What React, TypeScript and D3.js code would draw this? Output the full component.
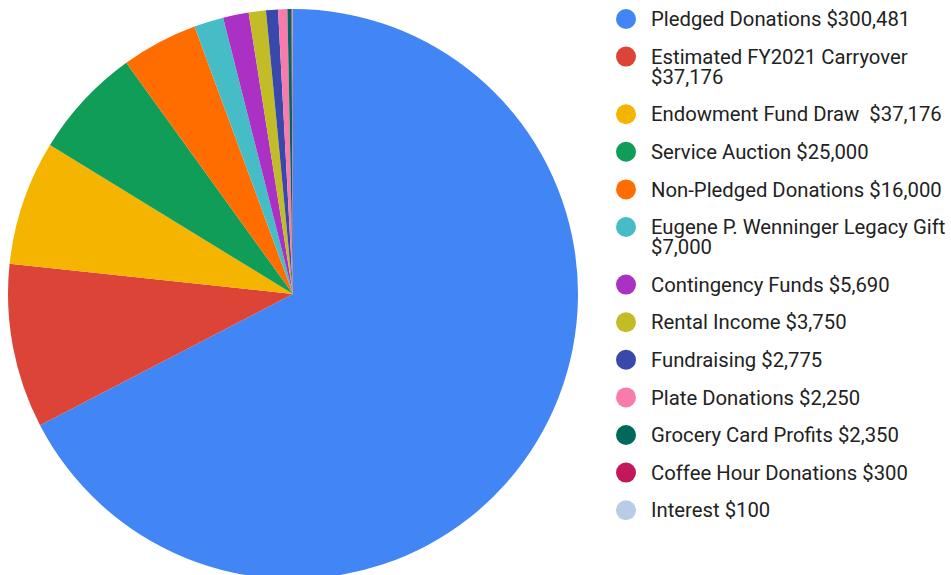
import React from "react";
import * as d3 from "d3";

const labels = [
  ["Pledged Donations $300,481"],
  ["Estimated FY2021 Carryover", "$37,176"],
  ["Endowment Fund Draw  $37,176"],
  ["Service Auction $25,000"],
  ["Non-Pledged Donations $16,000"],
  ["Eugene P. Wenninger Legacy Gift", "$7,000"],
  ["Contingency Funds $5,690"],
  ["Rental Income $3,750"],
  ["Fundraising $2,775"],
  ["Plate Donations $2,250"],
  ["Grocery Card Profits $2,350"],
  ["Coffee Hour Donations $300"],
  ["Interest $100"],
];
// slice sizes
const values = [269300, 37200, 28200, 25200, 17300, 6700, 5800, 3900, 2700, 2100, 900, 250, 100];
const colors = [
  "#4285f4", "#db4437", "#f4b400", "#0f9d58", "#ff6d00", "#46bdc6", "#ab30c4",
  "#c2bd26", "#3949ab", "#f77cab", "#00695c", "#c2185b", "#b8cce6",
];

export default function App() {
  const W = 951, H = 575;
  const cx = 293, cy = 294, r = 285;
  const pie = d3.pie<number>().sort(null).value((d) => d)(values);
  const arc = d3.arc<d3.PieArcDatum<number>>().innerRadius(0).outerRadius(r);
  let y = 19;
  const rows = labels.map((l, i) => {
    const row = { y, lines: l, i };
    y += 37.6 + (l.length - 1) * 20;
    return row;
  });
  return (
    <svg width={W} height={H} style={{ position: "absolute", left: 0, top: 0 }}>
      <rect width={W} height={H} fill="#fff" />
      <g transform={`translate(${cx},${cy})`}>
        {pie.map((p, i) => (
          <path key={i} d={arc(p) || ""} fill={colors[i]} />
        ))}
      </g>
      <g fontFamily="Roboto" fontSize={20.3} fill="#222">
        {rows.map((row) => (
          <g key={row.i}>
            <circle cx={626} cy={row.y} r={10} fill={colors[row.i]} />
            {row.lines.map((t, k) => (
              <text key={k} x={651} y={row.y + k * 20} dy="0.35em" style={{ whiteSpace: "pre" }}>
                {t}
              </text>
            ))}
          </g>
        ))}
      </g>
    </svg>
  );
}
